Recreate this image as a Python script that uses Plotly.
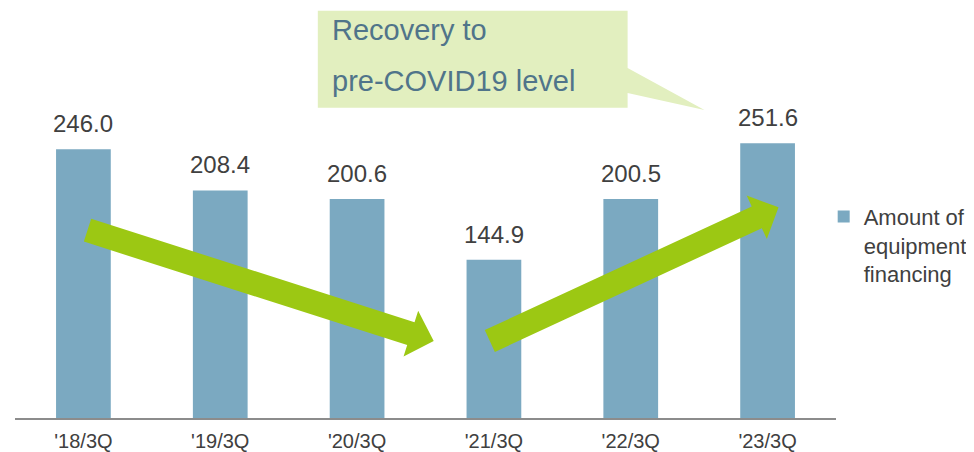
"""Equipment financing by quarter — bar chart with trend arrows and a callout."""
import math
import plotly.graph_objects as go

CATEGORIES = ["'18/3Q", "'19/3Q", "'20/3Q", "'21/3Q", "'22/3Q", "'23/3Q"]
AMOUNTS = [246.0, 208.4, 200.6, 144.9, 200.5, 251.6]
SERIES_NAME = "Amount of<br>equipment<br>financing"
CALLOUT_LINES = ["Recovery to", "pre-COVID19 level"]

# trend arrows (tail, tip) in data units: x = category index, y = amount
ARROW_DOWN = [(0.03, 172.0), (2.56, 70.5)]
ARROW_UP = [(2.97, 70.5), (5.08, 193.0)]

BAR = "#7ba9c1"
GREEN = "#9cc813"
CALLOUT_FILL = "#e2efbf"
CALLOUT_TEXT = "#50748a"
TEXT = "#404040"

# the page body adds an 8px margin, so the figure is 8px smaller
W, H = 966, 444
M = dict(l=7, r=137.5, t=2, b=34)
PLOT_W = W - M["l"] - M["r"]
PLOT_H = H - M["t"] - M["b"]
Y_MAX = 373.6
X_RANGE = [-0.5, len(CATEGORIES) - 0.5]


def to_px(x, y):
    px = (x - X_RANGE[0]) / (X_RANGE[1] - X_RANGE[0]) * PLOT_W
    py = y / Y_MAX * PLOT_H
    return px, py


def to_data(px, py):
    x = X_RANGE[0] + px / PLOT_W * (X_RANGE[1] - X_RANGE[0])
    y = py / PLOT_H * Y_MAX
    return x, y


def arrow_path(tail, tip, shaft=24, head=48, head_len=24):
    """Block arrow polygon, built in pixel space so the shape is not skewed."""
    x0, y0 = to_px(*tail)
    x1, y1 = to_px(*tip)
    length = math.hypot(x1 - x0, y1 - y0)
    ux, uy = (x1 - x0) / length, (y1 - y0) / length
    nx, ny = -uy, ux
    bx, by = x1 - ux * head_len, y1 - uy * head_len
    pts = [
        (x0 + nx * shaft / 2, y0 + ny * shaft / 2),
        (bx + nx * shaft / 2, by + ny * shaft / 2),
        (bx + nx * head / 2, by + ny * head / 2),
        (x1, y1),
        (bx - nx * head / 2, by - ny * head / 2),
        (bx - nx * shaft / 2, by - ny * shaft / 2),
        (x0 - nx * shaft / 2, y0 - ny * shaft / 2),
    ]
    pts = [to_data(px, py) for px, py in pts]
    return "M " + " L ".join(f"{x:.4f},{y:.3f}" for x, y in pts) + " Z"


fig = go.Figure()

fig.add_trace(go.Bar(
    x=list(range(len(CATEGORIES))),
    y=AMOUNTS,
    name=SERIES_NAME,
    width=0.4,
    marker=dict(color=BAR, line=dict(width=0)),
    hovertemplate='%{y:.1f}<extra></extra>',
))

# value labels above the bars
for i, v in enumerate(AMOUNTS):
    fig.add_annotation(
        x=i, y=v, text=f"{v:.1f}", showarrow=False,
        yanchor='bottom', yshift=10,
        font=dict(size=24, color=TEXT, family='Liberation Sans'),
    )

# green trend arrows
for tail, tip in (ARROW_DOWN, ARROW_UP):
    fig.add_shape(
        type='path', path=arrow_path(tail, tip),
        fillcolor=GREEN, line=dict(width=0), layer='above',
    )

# callout bubble
box_l, box_r, box_t, box_b = 1.713, 3.977, 373.0, 284.0
tail_tip = (4.539, 282.0)
callout = (
    f"M {box_l},{box_b} L {box_l},{box_t} L {box_r},{box_t} L {box_r},320.5 "
    f"L {tail_tip[0]},{tail_tip[1]} L {box_r},297.6 L {box_r},{box_b} Z"
)
fig.add_shape(type='path', path=callout, fillcolor=CALLOUT_FILL,
              line=dict(width=0), layer='above')
for text, y in zip(CALLOUT_LINES, (355.0, 309.0)):
    fig.add_annotation(
        x=1.80, y=y, text=text, showarrow=False,
        xanchor='left', yanchor='middle',
        font=dict(size=29, color=CALLOUT_TEXT, family='Liberation Sans'),
    )

fig.update_layout(
    width=W,
    height=H,
    margin=M,
    bargap=0.6,
    xaxis=dict(
        range=X_RANGE,
        tickvals=list(range(len(CATEGORIES))),
        ticktext=CATEGORIES,
        showgrid=False,
        zeroline=False,
        showline=True,
        linecolor='#8c8c8c',
        linewidth=1.5,
        ticks='',
        ticklabelstandoff=4,
        automargin=False,
        tickfont=dict(size=20, color=TEXT, family='Liberation Sans'),
    ),
    yaxis=dict(
        range=[0, Y_MAX],
        visible=False,
        showgrid=False,
        zeroline=False,
        automargin=False,
    ),
    showlegend=True,
    legend=dict(
        x=0.985, y=0.545, xanchor='left', yanchor='top',
        valign='top',
        font=dict(size=22, color=TEXT, family='Liberation Sans'),
        bgcolor='rgba(0,0,0,0)',
    ),
    paper_bgcolor='white',
    plot_bgcolor='white',
)

fig.write_html("out.html")
